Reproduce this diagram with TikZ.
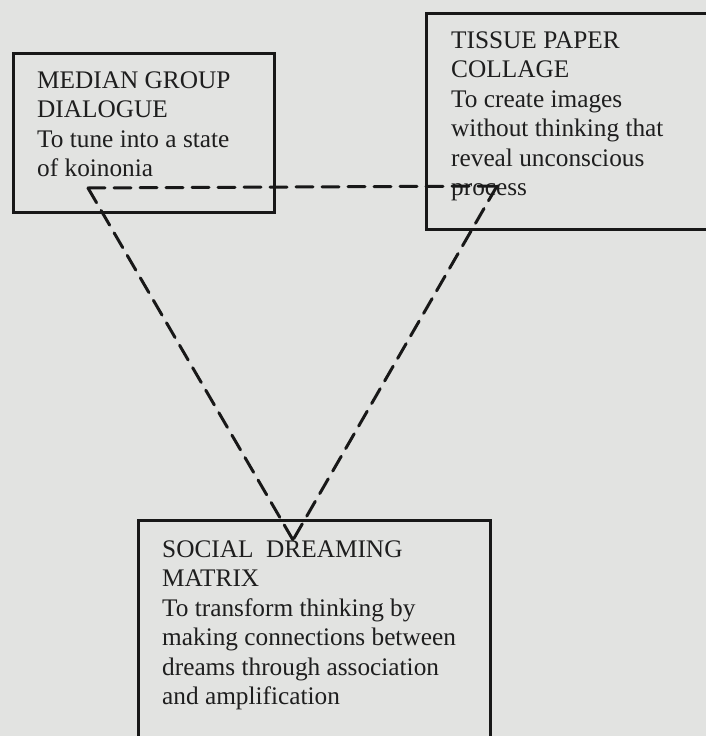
\documentclass[tikz,border=0pt]{standalone}
\usepackage{fontspec}
\setmainfont{Liberation Serif}
\definecolor{paper}{RGB}{226,227,225}
\definecolor{ink}{RGB}{24,24,24}
\definecolor{txt}{RGB}{30,30,30}
\newcommand{\boxlines}[1]{\vtop{\baselineskip=29.5pt\halign{##\hfil\cr#1\cr}}}
\begin{document}
\begin{tikzpicture}[x=1pt,y=-1pt,
  frame/.style={draw=ink,line width=3pt,inner sep=0pt,anchor=north west},
  label/.style={anchor=base west,inner sep=0pt,text=txt,font=\fontsize{25.3}{29.5}\selectfont},
  link/.style={draw=ink,line width=3pt,line cap=round,dash pattern=on 17pt off 9pt}]
\fill[paper] (0,0) rectangle (706,736);
\useasboundingbox (0,0) rectangle (706,736);
\begin{scope}
\clip (0,0) rectangle (706,736);
\node[frame,minimum width=261pt,minimum height=159pt] (mgd) at (12,52) {};
\node[frame,minimum width=300pt,minimum height=216pt] (tpc) at (425,12) {};
\node[frame,minimum width=352pt,minimum height=240pt] (sdm) at (137,519) {};
\end{scope}
\node[label] (mgdt) at (37,88) {\boxlines{MEDIAN GROUP\cr DIALOGUE\cr To tune into a state\cr of koinonia}};
\node[label] (tpct) at (451,48) {\boxlines{TISSUE PAPER\cr COLLAGE\cr To create images\cr without thinking that\cr reveal unconscious\cr process}};
\node[label] (sdmt) at (162,557) {\boxlines{SOCIAL\ \ DREAMING\cr MATRIX\cr To transform thinking by\cr making connections between\cr dreams through association\cr and amplification}};
\coordinate (vl) at (88,188);
\coordinate (vr) at (497,186);
\coordinate (vb) at (293,540);
\draw[link] (vl) -- (vr);
\draw[link] (vl) -- (vb);
\draw[link] (vr) -- (vb);
\end{tikzpicture}
\end{document}
